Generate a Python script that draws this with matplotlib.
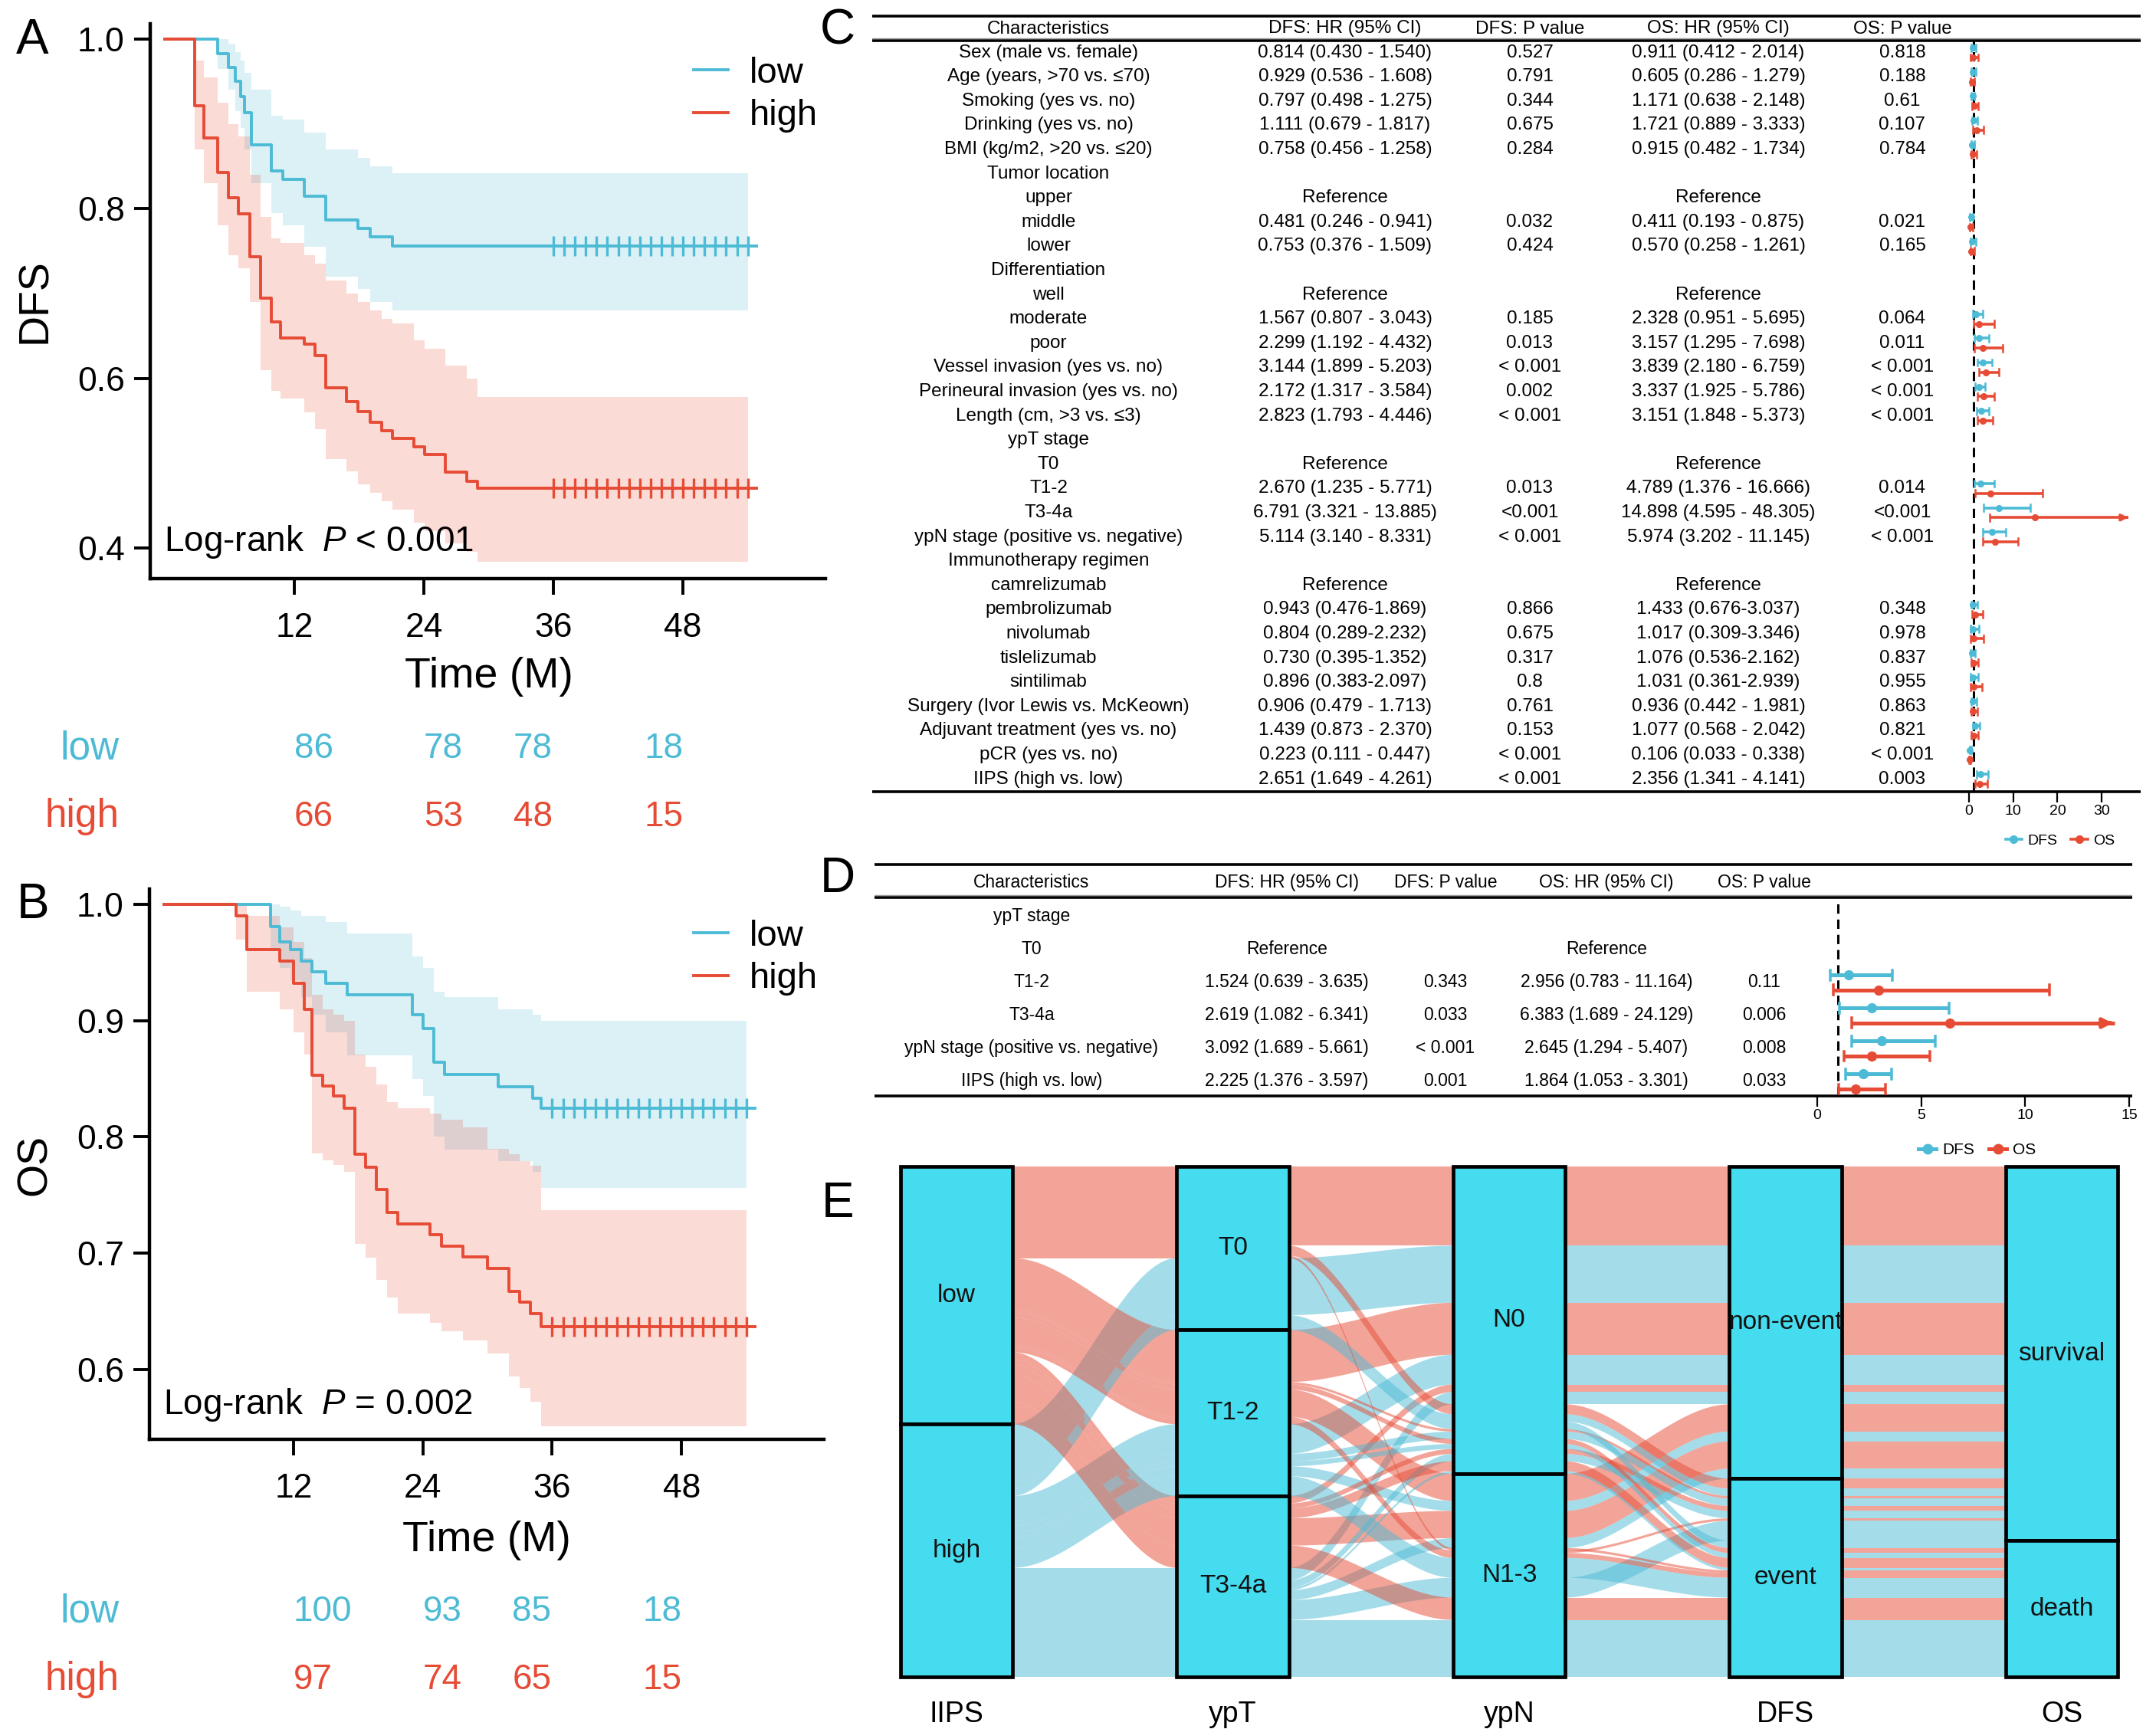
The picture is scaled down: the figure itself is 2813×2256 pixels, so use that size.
#!/usr/bin/env python3
"""Survival curves, Cox forest tables and alluvial plot for IIPS groups."""

import re

import matplotlib

matplotlib.use("Agg")
import matplotlib.pyplot as plt
import numpy as np
from matplotlib.lines import Line2D
from matplotlib.patches import Rectangle

W, H = 2813, 2256
BLUE = "#4DBBD5"
RED = "#E64B35"
BOX = "#45DCEF"

plt.rcParams["font.family"] = ["Liberation Sans", "DejaVu Sans"]
plt.rcParams["mathtext.fontset"] = "custom"
plt.rcParams["mathtext.rm"] = "Liberation Sans"
plt.rcParams["mathtext.it"] = "Liberation Sans:italic"

# ---------------- panel A: DFS by IIPS ----------------
dfs_low_t = [0, 4.9, 5.9, 6.5, 7.0, 7.4, 8.0, 9.9, 10.9, 12.9, 14.9, 17.9, 19.0, 21.1]
dfs_low_s = [1.0, .983, .967, .950, .932, .913, .875, .845, .835, .815, .787, .777, .767, .756]
dfs_low_up = [1.0, 1.0, .995, .985, .975, .96, .94, .91, .905, .89, .87, .86, .85, .842]
dfs_low_lo = [1.0, .965, .94, .915, .895, .87, .83, .795, .78, .755, .72, .705, .69, .68]

dfs_high_t = [0, 2.8, 3.6, 4.9, 5.9, 6.8, 7.9, 8.9, 9.9, 10.7, 12.9, 13.9, 14.9, 16.8,
              17.9, 19.0, 20.1, 21.1, 23.1, 24.1, 26.0, 28.0, 29.0]
dfs_high_s = [1.0, .921, .883, .843, .813, .794, .743, .695, .667, .648, .640, .627, .589, .573,
              .561, .548, .538, .529, .519, .510, .489, .479, .470]
dfs_high_up = [1.0, .975, .955, .925, .90, .885, .84, .79, .765, .76, .745, .735, .715, .70,
               .69, .68, .67, .665, .645, .635, .615, .60, .578]
dfs_high_lo = [1.0, .87, .83, .78, .745, .73, .69, .61, .585, .576, .56, .54, .505, .49,
               .475, .465, .455, .445, .43, .42, .405, .395, .384]

dfs_censor = [36, 37, 38, 39, 40, 41, 42, 43, 44, 45, 46, 47, 48, 49, 50, 51, 52, 53, 54]
dfs_risk_low = [86, 78, 78, 18]
dfs_risk_high = [66, 53, 48, 15]

# ---------------- panel B: OS by IIPS ----------------
os_low_t = [0, 9.9, 10.7, 11.7, 12.7, 13.7, 15.0, 17.0, 23.0, 24.0, 25.0, 26.0, 31.0, 34.2, 35.0]
os_low_s = [1.0, .981, .968, .961, .951, .942, .932, .922, .905, .893, .864, .854, .843, .833, .825]
os_low_up = [1.0, 1.0, .998, .995, .99, .99, .985, .975, .955, .945, .925, .92, .91, .905, .90]
os_low_lo = [1.0, .96, .945, .935, .92, .905, .89, .87, .85, .835, .80, .789, .779, .77, .756]

os_high_t = [0, 6.7, 7.7, 10.7, 12.0, 13.0, 13.7, 14.7, 15.7, 16.7, 17.7, 18.7, 19.7, 20.7,
             21.7, 24.7, 25.7, 27.7, 30.0, 32.0, 33.0, 34.0, 35.0]
os_high_s = [1.0, .99, .961, .951, .932, .91, .853, .844, .835, .825, .785, .774, .755, .735,
             .725, .716, .706, .697, .687, .667, .658, .648, .637]
os_high_up = [1.0, 1.0, .99, .98, .968, .954, .922, .91, .905, .90, .871, .86, .845, .83,
              .825, .82, .815, .808, .79, .785, .779, .775, .737]
os_high_lo = [1.0, .97, .925, .91, .89, .871, .786, .78, .776, .77, .708, .696, .677, .662,
              .648, .64, .633, .625, .614, .594, .584, .572, .551]

os_censor = [36, 37, 38, 39, 40, 41, 42, 43, 44, 45, 46, 47, 48, 49, 50, 51, 52, 53, 54]
os_risk_low = [100, 93, 85, 18]
os_risk_high = [97, 74, 65, 15]

followup_end = 54.8
band_end = 54.0
time_ticks = [12, 24, 36, 48]

# ---------------- panel C: univariate Cox ----------------
c_header = ["Characteristics", "DFS: HR (95% CI)", "DFS: P value", "OS: HR (95% CI)", "OS: P value"]
c_char = [
    "Sex (male vs. female)", "Age (years, >70 vs. \u226470)", "Smoking (yes vs. no)",
    "Drinking (yes vs. no)", "BMI (kg/m2, >20 vs. \u226420)", "Tumor location", "upper",
    "middle", "lower", "Differentiation", "well", "moderate", "poor",
    "Vessel invasion (yes vs. no)", "Perineural invasion (yes vs. no)",
    "Length (cm, >3 vs. \u22643)", "ypT stage", "T0", "T1-2", "T3-4a",
    "ypN stage (positive vs. negative)", "Immunotherapy regimen", "camrelizumab",
    "pembrolizumab", "nivolumab", "tislelizumab", "sintilimab",
    "Surgery (Ivor Lewis vs. McKeown)", "Adjuvant treatment (yes vs. no)",
    "pCR (yes vs. no)", "IIPS (high vs. low)",
]
c_dfs_hr = [
    "0.814 (0.430 - 1.540)", "0.929 (0.536 - 1.608)", "0.797 (0.498 - 1.275)",
    "1.111 (0.679 - 1.817)", "0.758 (0.456 - 1.258)", "", "Reference",
    "0.481 (0.246 - 0.941)", "0.753 (0.376 - 1.509)", "", "Reference",
    "1.567 (0.807 - 3.043)", "2.299 (1.192 - 4.432)", "3.144 (1.899 - 5.203)",
    "2.172 (1.317 - 3.584)", "2.823 (1.793 - 4.446)", "", "Reference",
    "2.670 (1.235 - 5.771)", "6.791 (3.321 - 13.885)", "5.114 (3.140 - 8.331)", "",
    "Reference", "0.943 (0.476-1.869)", "0.804 (0.289-2.232)", "0.730 (0.395-1.352)",
    "0.896 (0.383-2.097)", "0.906 (0.479 - 1.713)", "1.439 (0.873 - 2.370)",
    "0.223 (0.111 - 0.447)", "2.651 (1.649 - 4.261)",
]
c_dfs_p = [
    "0.527", "0.791", "0.344", "0.675", "0.284", "", "", "0.032", "0.424", "", "",
    "0.185", "0.013", "< 0.001", "0.002", "< 0.001", "", "", "0.013", "<0.001", "< 0.001",
    "", "", "0.866", "0.675", "0.317", "0.8", "0.761", "0.153", "< 0.001", "< 0.001",
]
c_os_hr = [
    "0.911 (0.412 - 2.014)", "0.605 (0.286 - 1.279)", "1.171 (0.638 - 2.148)",
    "1.721 (0.889 - 3.333)", "0.915 (0.482 - 1.734)", "", "Reference",
    "0.411 (0.193 - 0.875)", "0.570 (0.258 - 1.261)", "", "Reference",
    "2.328 (0.951 - 5.695)", "3.157 (1.295 - 7.698)", "3.839 (2.180 - 6.759)",
    "3.337 (1.925 - 5.786)", "3.151 (1.848 - 5.373)", "", "Reference",
    "4.789 (1.376 - 16.666)", "14.898 (4.595 - 48.305)", "5.974 (3.202 - 11.145)", "",
    "Reference", "1.433 (0.676-3.037)", "1.017 (0.309-3.346)", "1.076 (0.536-2.162)",
    "1.031 (0.361-2.939)", "0.936 (0.442 - 1.981)", "1.077 (0.568 - 2.042)",
    "0.106 (0.033 - 0.338)", "2.356 (1.341 - 4.141)",
]
c_os_p = [
    "0.818", "0.188", "0.61", "0.107", "0.784", "", "", "0.021", "0.165", "", "",
    "0.064", "0.011", "< 0.001", "< 0.001", "< 0.001", "", "", "0.014", "<0.001", "< 0.001",
    "", "", "0.348", "0.978", "0.837", "0.955", "0.863", "0.821", "< 0.001", "0.003",
]
c_ticks = [0, 10, 20, 30]

# ---------------- panel D: multivariate Cox ----------------
d_char = ["ypT stage", "T0", "T1-2", "T3-4a", "ypN stage (positive vs. negative)", "IIPS (high vs. low)"]
d_dfs_hr = ["", "Reference", "1.524 (0.639 - 3.635)", "2.619 (1.082 - 6.341)",
            "3.092 (1.689 - 5.661)", "2.225 (1.376 - 3.597)"]
d_dfs_p = ["", "", "0.343", "0.033", "< 0.001", "0.001"]
d_os_hr = ["", "Reference", "2.956 (0.783 - 11.164)", "6.383 (1.689 - 24.129)",
           "2.645 (1.294 - 5.407)", "1.864 (1.053 - 3.301)"]
d_os_p = ["", "", "0.11", "0.006", "0.008", "0.033"]
d_ticks = [0, 5, 10, 15]

# ---------------- panel E: alluvial ----------------
axis_names = ["IIPS", "ypT", "ypN", "DFS", "OS"]
axis_levels = [["low", "high"], ["T0", "T1-2", "T3-4a"], ["N0", "N1-3"],
               ["non-event", "event"], ["survival", "death"]]
flow_iips = ["low", "high", "low", "high", "low", "high", "low", "high", "low", "high",
             "low", "high", "low", "high", "low", "high", "low", "high",
             "high", "low", "high", "low", "high", "low", "high", "low", "high", "low"]
flow_ypt = ["T0", "T0", "T1-2", "T1-2", "T3-4a", "T3-4a", "T1-2", "T1-2", "T3-4a", "T3-4a",
            "T0", "T0", "T1-2", "T1-2", "T3-4a", "T3-4a", "T1-2", "T3-4a",
            "T0", "T1-2", "T1-2", "T3-4a", "T3-4a", "T1-2", "T1-2", "T3-4a", "T3-4a", "T0"]
flow_ypn = ["N0", "N0", "N0", "N0", "N0", "N0", "N1-3", "N1-3", "N1-3", "N1-3",
            "N0", "N0", "N0", "N0", "N0", "N0", "N1-3", "N1-3",
            "N0", "N0", "N0", "N0", "N0", "N1-3", "N1-3", "N1-3", "N1-3", "N1-3"]
flow_dfs = ["non-event"] * 10 + ["event"] * 18
flow_os = ["survival"] * 18 + ["death"] * 10
flow_n = [32, 23, 21, 12, 3, 5, 11, 4, 11, 4,
          4, 3, 1, 3, 2, 3, 1, 8,
          3, 2, 2, 4, 1, 2, 8, 9, 23, 1]


def px_axes(fig, x0, y0, x1, y1):
    """Axes placed by pixel box (top-left origin)."""
    return fig.add_axes([x0 / W, 1 - y1 / H, (x1 - x0) / W, (y1 - y0) / H])


def parse_ci(text):
    nums = re.findall(r"\d+\.\d+", text)
    return tuple(float(v) for v in nums) if len(nums) == 3 else None


def km_panel(fig, box, ylim, yticks, ylabel, curves, censor, risk, pvalue, px):
    ax = px_axes(fig, *box)
    for t, s, lo, up, color, label in curves:
        ax.fill_between(list(t) + [band_end], list(lo) + [lo[-1]], list(up) + [up[-1]],
                        step="post", color=color, alpha=0.2, lw=0)
    for t, s, lo, up, color, label in curves:
        ax.step(list(t) + [followup_end], list(s) + [s[-1]], where="post",
                color=color, lw=2.8, label=label)
        ax.plot(censor, [s[-1]] * len(censor), ls="none", marker="|", ms=19,
                mew=2.4, color=color)
    ax.set_xlim(-1.35, 61.2)
    ax.set_ylim(*ylim)
    ax.set_xticks(time_ticks)
    ax.set_yticks(yticks)
    ax.set_yticklabels([f"{v:.1f}" for v in yticks])
    for side in ("top", "right"):
        ax.spines[side].set_visible(False)
    for side in ("left", "bottom"):
        ax.spines[side].set_linewidth(3.2)
    ax.tick_params(labelsize=32, length=15, width=2.8)
    ax.tick_params(axis="x", pad=17)
    ax.tick_params(axis="y", pad=9)
    ax.set_xlabel("Time (M)", fontsize=40)
    ax.set_ylabel(ylabel, fontsize=40)
    ax.xaxis.set_label_coords(px["xlab"][0] / W, 1 - px["xlab"][1] / H, transform=fig.transFigure)
    ax.yaxis.set_label_coords(px["ylab"][0] / W, 1 - px["ylab"][1] / H, transform=fig.transFigure)
    ax.text(0.02, px["logrank"], r"Log-rank  $\mathit{P}$" + pvalue, transform=ax.transAxes,
            fontsize=33, va="center", ha="left")
    ax.legend(loc="upper left", bbox_to_anchor=(px["legend"][0] / W, 1 - px["legend"][1] / H),
              bbox_transform=fig.transFigure, frameon=False, fontsize=34,
              handlelength=0.95, handletextpad=0.6, labelspacing=0.24, borderpad=0,
              borderaxespad=0)
    blend = matplotlib.transforms.blended_transform_factory(ax.transData, fig.transFigure)
    for (name, counts, color), ypx in zip(risk, px["risk_y"]):
        fig.text(156 / W, 1 - ypx / H, name, color=color, fontsize=37, ha="right", va="center")
        for xr, n in zip(px["risk_x"], counts):
            ax.text(xr, 1 - ypx / H, str(n), transform=blend, color=color, fontsize=33,
                    ha="left", va="center", clip_on=False)
    return ax


def table_panel(fig, box, rule_y, header_y, row_y, cols, columns, fontsize):
    ax = px_axes(fig, *box)
    ax.set_xlim(box[0], box[2])
    ax.set_ylim(box[3], box[1])
    ax.axis("off")
    for y in rule_y:
        ax.axhline(y, color="black", lw=2.6)
    ax.axhline(rule_y[1] - 3, color="#9a9a9a", lw=1.0)
    for x, head in zip(cols, c_header):
        ax.text(x, header_y, head, ha="center", va="center", fontsize=fontsize)
    for i, y in enumerate(row_y):
        for x, col in zip(cols, columns):
            if col[i]:
                ax.text(x, y, col[i], ha="center", va="center", fontsize=fontsize)
    return ax


def forest_panel(fig, box, xlim, ylim, ticks, dfs_col, os_col, clip, off, ms, lw, cap, tick_fs):
    ax = px_axes(fig, *box)
    ax.set_xlim(*xlim)
    ax.set_ylim(*ylim)
    for side in ax.spines.values():
        side.set_visible(False)
    ax.set_yticks([])
    ax.set_xticks(ticks)
    ax.tick_params(axis="x", length=10, width=1.6, labelsize=tick_fs, pad=2)
    ax.patch.set_alpha(0)
    ax.axvline(1, color="black", ls=(0, (4, 2.5)), lw=2.2, zorder=1)
    for i, (dfs_txt, os_txt) in enumerate(zip(dfs_col, os_col)):
        for txt, color, dy in ((dfs_txt, BLUE, -off), (os_txt, RED, off)):
            vals = parse_ci(txt)
            if vals is None:
                continue
            hr, lo, hi = vals
            y = i + dy
            ax.plot([lo, min(hi, clip)], [y, y], color=color, lw=lw, solid_capstyle="butt", zorder=3)
            ax.plot([lo, lo], [y - cap, y + cap], color=color, lw=lw * 0.7, zorder=3)
            if hi <= clip:
                ax.plot([hi, hi], [y - cap, y + cap], color=color, lw=lw * 0.7, zorder=3)
            else:
                ax.annotate("", xy=(clip, y), xytext=(clip - 0.02 * (xlim[1] - xlim[0]), y),
                            arrowprops=dict(arrowstyle="-|>", color=color, lw=lw,
                                            mutation_scale=ms * 2.2), zorder=4)
            ax.plot(hr, y, "o", color=color, ms=ms, zorder=4)
    return ax


def forest_legend(fig, center, fontsize, ms, lw):
    handles = [Line2D([0], [0], color=BLUE, marker="o", ms=ms, lw=lw),
               Line2D([0], [0], color=RED, marker="o", ms=ms, lw=lw)]
    fig.legend(handles, ["DFS", "OS"], loc="center",
               bbox_to_anchor=(center[0] / W, 1 - center[1] / H), ncol=2, frameon=False,
               fontsize=fontsize, handlelength=1.1, handletextpad=0.4, columnspacing=0.9)


def alluvial_panel(fig, box):
    ax = px_axes(fig, *box)
    n_axes = len(axis_names)
    half = 0.2025
    ax.set_xlim(1 - half, n_axes + half)
    total = sum(flow_n)
    ax.set_ylim(total, 0)
    columns = [flow_iips, flow_ypt, flow_ypn, flow_dfs, flow_os]
    codes = [[axis_levels[j].index(columns[j][k]) for j in range(n_axes)]
             for k in range(len(flow_n))]
    guide = {0: [0, 1, 2, 3, 4], 1: [1, 0, 2, 3, 4], 2: [2, 3, 1, 4, 0],
             3: [3, 4, 2, 1, 0], 4: [4, 3, 2, 1, 0]}
    tops = np.zeros((n_axes, len(flow_n)))
    for i in range(n_axes):
        order = sorted(range(len(flow_n)), key=lambda k: tuple(codes[k][j] for j in guide[i]))
        y = 0.0
        for k in order:
            tops[i, k] = y
            y += flow_n[k]
    u = np.linspace(0, 1, 60)
    smooth = u * u * (3 - 2 * u)
    for k, n in enumerate(flow_n):
        color = RED if flow_iips[k] == "low" else BLUE
        for i in range(n_axes - 1):
            x0 = i + 1 + half
            x1 = i + 2 - half
            xs = x0 + (x1 - x0) * u
            top = tops[i, k] + (tops[i + 1, k] - tops[i, k]) * smooth
            bot = top + n
            ax.fill(np.concatenate([xs, xs[::-1]]), np.concatenate([top, bot[::-1]]),
                    color=color, alpha=0.5, lw=0, zorder=1)
    for i, levels in enumerate(axis_levels):
        y = 0.0
        for lev in levels:
            size = sum(n for n, c in zip(flow_n, columns[i]) if c == lev)
            ax.add_patch(Rectangle((i + 1 - half, y), 2 * half, size, facecolor=BOX,
                                   edgecolor="black", lw=3.4, zorder=3, clip_on=False))
            ax.text(i + 1, y + size / 2, lev, ha="center", va="center", fontsize=24,
                    color="#111111", zorder=4)
            y += size
    ax.set_xticks(range(1, n_axes + 1))
    ax.set_xticklabels(axis_names, fontsize=27)
    ax.set_yticks([])
    ax.tick_params(length=0, pad=22)
    for side in ax.spines.values():
        side.set_visible(False)
    return ax


fig = plt.figure(figsize=(W / 100, H / 100), dpi=100)

km_panel(
    fig, (196, 31, 1077, 755), (0.3638, 1.0181), [0.4, 0.6, 0.8, 1.0], "DFS",
    [(dfs_low_t, dfs_low_s, dfs_low_lo, dfs_low_up, BLUE, "low"),
     (dfs_high_t, dfs_high_s, dfs_high_lo, dfs_high_up, RED, "high")],
    dfs_censor, [("low", dfs_risk_low, BLUE), ("high", dfs_risk_high, RED)], " < 0.001",
    {"xlab": (638, 857), "ylab": (72, 393), "logrank": 0.066, "legend": (905, 74),
     "risk_y": (977, 1066), "risk_x": (12, 24, 32.3, 44.4)},
)
km_panel(
    fig, (195, 1160, 1075, 1878), (0.540, 1.0132), [0.6, 0.7, 0.8, 0.9, 1.0], "OS",
    [(os_low_t, os_low_s, os_low_lo, os_low_up, BLUE, "low"),
     (os_high_t, os_high_s, os_high_lo, os_high_up, RED, "high")],
    os_censor, [("low", os_risk_low, BLUE), ("high", os_risk_high, RED)], " = 0.002",
    {"xlab": (635, 1984), "ylab": (72, 1520), "logrank": 0.062, "legend": (905, 1200),
     "risk_y": (2103, 2192), "risk_x": (12, 24, 32.3, 44.4)},
)

# panel C
c_rows = [68.6 + 31.6 * i for i in range(len(c_char))]
table_panel(fig, (1138, 0, 2793, 1120), (21, 53, 1033), 37.5, c_rows,
            (1368, 1755, 1996, 2242, 2482), (c_char, c_dfs_hr, c_dfs_p, c_os_hr, c_os_p), 17.5)
forest_panel(fig, (2540, 53, 2793, 1033), (-5.03, 38.82), (30.52, -0.494), c_ticks,
             c_dfs_hr, c_os_hr, 36.0, 0.2, 5.5, 2.6, 0.14, 14)
forest_legend(fig, (2688, 1097), 14, 7, 2.6)

# panel D
d_rows = [1196 + 43 * i for i in range(len(d_char))]
table_panel(fig, (1141, 1100, 2782, 1520), (1128.5, 1171.5, 1430), 1152, d_rows,
            (1346, 1679, 1886, 2096, 2302), (d_char, d_dfs_hr, d_dfs_p, d_os_hr, d_os_p), 16.5)
forest_panel(fig, (2345, 1171.5, 2782, 1430), (-0.94, 15.13), (5.44, -0.57), d_ticks,
             d_dfs_hr, d_os_hr, 14.3, 0.23, 8.5, 3.6, 0.15, 14)
forest_legend(fig, (2580, 1501), 15, 9, 3.6)

# panel E
alluvial_panel(fig, (1175, 1522, 2763, 2188))

for letter, (x, y) in {"A": (42, 53), "B": (43, 1181), "C": (1093, 40),
                       "D": (1093, 1147), "E": (1093, 1571)}.items():
    fig.text(x / W, 1 - y / H, letter, fontsize=46, ha="center", va="center")

fig.savefig("out.png", dpi=100)
